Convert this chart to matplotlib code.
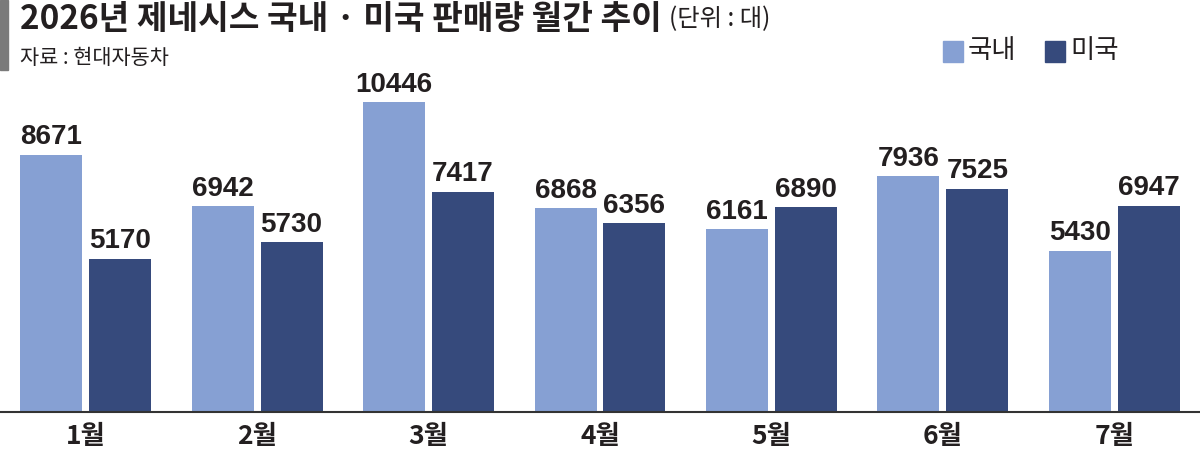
import numpy as np
import matplotlib
matplotlib.use("Agg")
import matplotlib.pyplot as plt
from matplotlib import font_manager
from matplotlib.patches import Rectangle

plt.rcParams['font.family'] = ['Noto Sans CJK KR', 'DejaVu Sans']

# 데이터
months = ['1월', '2월', '3월', '4월', '5월', '6월', '7월']
domestic = [8671, 6942, 10446, 6868, 6161, 7936, 5430]
usa = [5170, 5730, 7417, 6356, 6890, 7525, 6947]
series_names = ['국내', '미국']

c_dom = '#86a0d3'
c_usa = '#364a7c'
c_txt = '#231f20'

installed = {f.name for f in font_manager.fontManager.ttflist}
if 'Liberation Sans Narrow' in installed:
    num_font, num_size = ['Liberation Sans Narrow'], 22
else:
    num_font, num_size = ['Liberation Sans', 'DejaVu Sans'], 20

fig = plt.figure(figsize=(12, 4.54), dpi=100)
ax = fig.add_axes([0, 0.0925, 1, 0.9075])

x = np.arange(len(months))
w = 0.3615
off = 0.201
b1 = ax.bar(x - off, domestic, w, color=c_dom)
b2 = ax.bar(x + off, usa, w, color=c_usa)

for bars, vals in ((b1, domestic), (b2, usa)):
    for b, v in zip(bars, vals):
        ax.annotate(str(v), (b.get_x() + b.get_width() / 2, v),
                    xytext=(0, 7.5), textcoords='offset points',
                    ha='center', va='baseline', fontsize=num_size,
                    fontweight='bold', family=num_font, color=c_txt)

ax.set_xlim(-0.5, 6.5)
ax.set_ylim(0, 13880)
for s in ['top', 'right', 'left']:
    ax.spines[s].set_visible(False)
ax.spines['bottom'].set_color('#333333')
ax.spines['bottom'].set_linewidth(1.5)
ax.set_yticks([])
ax.set_xticks(x)
ax.set_xticklabels(months, fontsize=19, fontweight='bold', color=c_txt)
ax.tick_params(axis='x', length=0, pad=8)
ax.patch.set_alpha(0)

# 제목
fig.patches.append(Rectangle((0, 1 - 70 / 454), 8 / 1200, 70 / 454,
                             transform=fig.transFigure, color='#7a7a7a'))
title = fig.text(20 / 1200, 1 - 19 / 454, '2026년 제네시스 국내 · 미국 판매량 월간 추이',
                 fontsize=24, fontweight='heavy', va='center', ha='left', color=c_txt)
ax.annotate('(단위 : 대)', xy=(1, 0.5), xycoords=title, xytext=(5, 0),
            textcoords='offset points', fontsize=17.5, va='center', ha='left',
            color=c_txt, annotation_clip=False)
fig.text(20 / 1200, 1 - 58 / 454, '자료 : 현대자동차', fontsize=15,
         va='center', ha='left', color=c_txt)

# 범례
for sx, name, col in ((943, series_names[0], c_dom), (1045, series_names[1], c_usa)):
    fig.patches.append(Rectangle((sx / 1200, 1 - 62 / 454), 20 / 1200, 21 / 454,
                                 transform=fig.transFigure, color=col))
    fig.text((sx + 25) / 1200, 1 - 51 / 454, name, fontsize=19, fontweight='medium',
             va='center', ha='left', color=c_txt)

fig.savefig('out.png', dpi=100)
